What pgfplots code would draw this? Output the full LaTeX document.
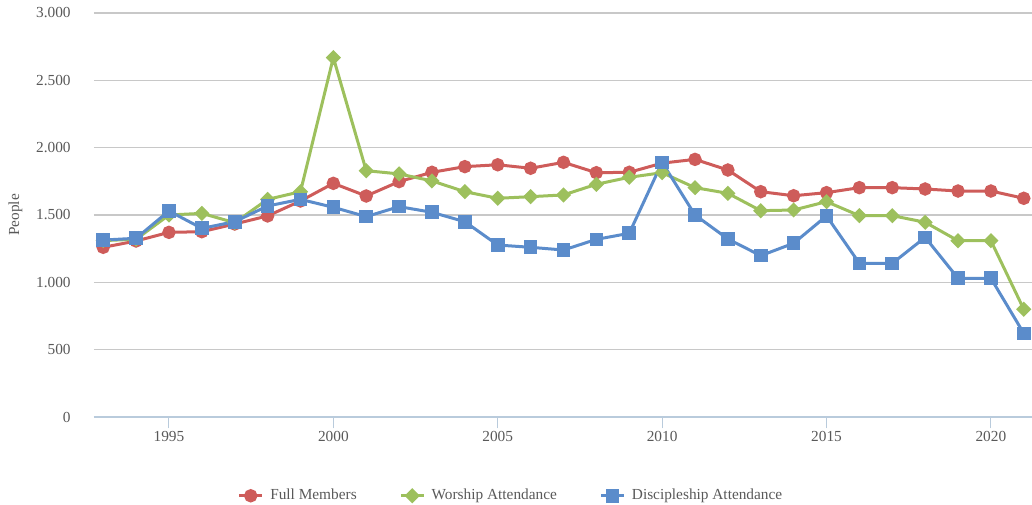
\documentclass[border=0pt]{standalone}
\usepackage{fontspec}
\setmainfont{Liberation Serif}
\usepackage{pgfplots}
\pgfplotsset{compat=1.18}
\definecolor{cred}{RGB}{206,92,90}
\definecolor{cgreen}{RGB}{157,192,93}
\definecolor{cblue}{RGB}{91,140,203}
\definecolor{ctext}{RGB}{89,89,89}
\definecolor{cgrid}{RGB}{200,200,200}
\definecolor{caxis}{RGB}{185,203,220}
\begin{document}
\fontsize{11.5}{13}\selectfont
\begin{tikzpicture}
\useasboundingbox (0,0) rectangle (774pt,378.75pt);
\begin{axis}[
  at={(70.5pt,66pt)}, anchor=south west,
  scale only axis, width=703.5pt, height=303pt,
  xmin=1992.72, xmax=2021.25,
  ymin=0, ymax=3000,
  xtick={1995,2000,2005,2010,2015,2020},
  ytick={0,500,1000,1500,2000,2500,3000},
  axis x line*=bottom, axis y line*=left,
  x axis line style={draw=caxis, line width=0.9pt, -},
  y axis line style={draw=none},
  ymajorgrids, grid style={draw=cgrid, line width=0.9pt},
  tick align=outside, major tick length=8.5pt,
  xtick style={draw=caxis, line width=0.8pt},
  ytick style={draw=none},
  ticklabel style={text=ctext, font=\fontsize{11.5}{13}\selectfont},
  /pgf/number format/assume math mode=true,
  yticklabel style={anchor=east, xshift=-5pt},
  xticklabel style={/pgf/number format/1000 sep={}, yshift=2pt},
  yticklabels={0,500,1.000,1.500,2.000,2.500,3.000},
  ylabel={People},
  every axis y label/.style={at={(axis description cs:0,0.5)}, xshift=-59pt, rotate=90, anchor=center, text=ctext, font=\fontsize{11.5}{13}\selectfont},
  legend columns=3,
  legend style={at={(axis description cs:0.445,-0.195)}, anchor=center, draw=none, fill=none, text=ctext, font=\fontsize{11.5}{13}\selectfont, /tikz/every even column/.append style={column sep=30pt}, /tikz/every odd column/.append style={column sep=3pt}},
  legend image code/.code={\draw[mark repeat=2,mark phase=2,#1] plot coordinates {(0pt,0pt) (8.5pt,0pt) (17pt,0pt)};},
  clip=false,
]
\addplot[cred, line width=2.25pt, mark=*, mark size=3.9pt, mark options={solid, fill=cred, draw=none}] coordinates {
(1993,1260) (1994,1307) (1995,1371) (1996,1376) (1997,1433) (1998,1493) (1999,1604) (2000,1735) (2001,1641) (2002,1748) (2003,1817) (2004,1859) (2005,1873) (2006,1847) (2007,1891) (2008,1814) (2009,1817) (2010,1885) (2011,1913) (2012,1834) (2013,1673) (2014,1643) (2015,1666) (2016,1703) (2017,1703) (2018,1693) (2019,1678) (2020,1678) (2021,1624)
};
\addlegendentry{Full Members}
\addplot[cgreen, line width=2.25pt, mark=square*, mark size=2.9pt, mark options={solid, fill=cgreen, draw=none, rotate=45}] coordinates {
(1993,1310) (1994,1320) (1995,1500) (1996,1512) (1997,1443) (1998,1616) (1999,1673) (2000,2669) (2001,1829) (2002,1805) (2003,1753) (2004,1673) (2005,1624) (2006,1636) (2007,1649) (2008,1728) (2009,1780) (2010,1814) (2011,1703) (2012,1661) (2013,1532) (2014,1537) (2015,1599) (2016,1495) (2017,1495) (2018,1446) (2019,1309) (2020,1309) (2021,800)
};
\addlegendentry{Worship Attendance}
\addplot[cblue, line width=2.25pt, mark=square*, mark size=4pt, mark options={solid, fill=cblue, draw=none}] coordinates {
(1993,1314) (1994,1327) (1995,1530) (1996,1401) (1997,1450) (1998,1567) (1999,1616) (2000,1557) (2001,1488) (2002,1562) (2003,1520) (2004,1450) (2005,1277) (2006,1260) (2007,1240) (2008,1319) (2009,1364) (2010,1891) (2011,1500) (2012,1322) (2013,1198) (2014,1290) (2015,1493) (2016,1141) (2017,1141) (2018,1334) (2019,1030) (2020,1030) (2021,621)
};
\addlegendentry{Discipleship Attendance}
\end{axis}
\end{tikzpicture}
\end{document}
